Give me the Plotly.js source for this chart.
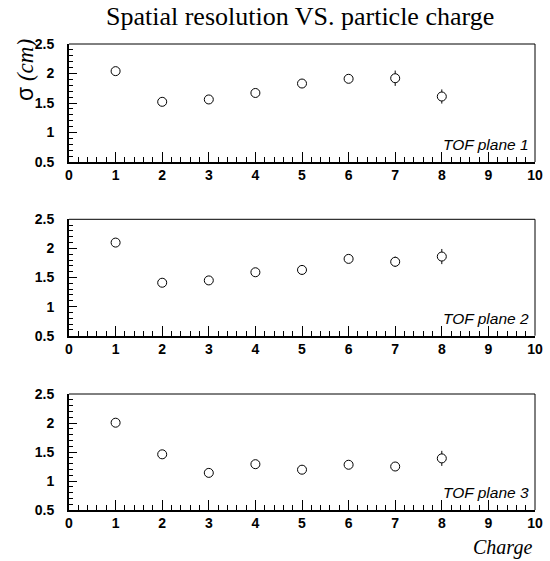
<!DOCTYPE html>
<html>
<head>
<meta charset="utf-8">
<script src="https://cdn.plot.ly/plotly-3.0.1.min.js"></script>
<style>html,body{margin:0;padding:0;background:#fff;}#plot{width:550px;height:561px;}</style>
</head>
<body>
<div id="plot"></div>
<script>
const charges = [1, 2, 3, 4, 5, 6, 7, 8];
const sigma1 = [2.04, 1.52, 1.56, 1.67, 1.83, 1.91, 1.92, 1.61];
const err1   = [0.04, 0.04, 0.04, 0.04, 0.05, 0.05, 0.13, 0.12];
const sigma2 = [2.10, 1.41, 1.45, 1.59, 1.63, 1.82, 1.77, 1.86];
const err2   = [0.04, 0.04, 0.04, 0.05, 0.08, 0.06, 0.09, 0.13];
const sigma3 = [2.005, 1.46, 1.14, 1.29, 1.195, 1.28, 1.25, 1.39];
const err3   = [0.04, 0.04, 0.04, 0.04, 0.05, 0.05, 0.06, 0.13];
const xTickVals = [0, 1, 2, 3, 4, 5, 6, 7, 8, 9, 10];
const xTickText = ['0', '1', '2', '3', '4', '5', '6', '7', '8', '9', '10'];
const yTickVals = [0.5, 1, 1.5, 2, 2.5];
const yTickText = ['0.5', '1', '1.5', '2', '2.5'];
const panelLabels = ['TOF plane 1', 'TOF plane 2', 'TOF plane 3'];
const mainTitle = 'Spatial resolution VS. particle charge';
const xTitle = 'Charge';

const W = 550, H = 561;
const xDom = [69 / W, 535 / W];
const yDoms = [
  [(H - 162) / H, (H - 44) / H],
  [(H - 335.7) / H, (H - 219.3) / H],
  [(H - 510) / H, (H - 394) / H]
];
const series = [[sigma1, err1], [sigma2, err2], [sigma3, err3]];
const tickFont = {family: 'Liberation Sans, Arial, sans-serif', size: 14, color: '#000'};
const bold = arr => arr.map(t => '<b>' + t + '</b>');

const data = [];
const layout = {
  width: W, height: H,
  margin: {l: 0, r: 0, t: 0, b: 0},
  paper_bgcolor: '#fff', plot_bgcolor: '#fff',
  showlegend: false,
  annotations: [], shapes: []
};

for (let i = 0; i < 3; i++) {
  const xa = i === 0 ? 'x' : 'x' + (i + 1);
  const ya = i === 0 ? 'y' : 'y' + (i + 1);
  data.push({
    x: charges, y: series[i][0], xaxis: xa, yaxis: ya,
    type: 'scatter', mode: 'markers',
    marker: {symbol: 'circle', size: 9, color: '#fff', line: {width: 1, color: '#000'}},
    error_y: {type: 'data', array: series[i][1], visible: true, color: '#000', thickness: 1, width: 0},
    hoverinfo: 'skip'
  });
  const xk = i === 0 ? 'xaxis' : 'xaxis' + (i + 1);
  const yk = i === 0 ? 'yaxis' : 'yaxis' + (i + 1);
  layout[xk] = {
    domain: xDom, anchor: ya, range: [0, 10],
    tickmode: 'array', tickvals: xTickVals, ticktext: bold(xTickText),
    showgrid: false, zeroline: false,
    showline: true, linecolor: '#000', linewidth: 2,
    ticks: 'inside', ticklen: 10, tickwidth: 1, tickcolor: '#000',
    minor: {dtick: 0.2, tick0: 0, ticks: 'inside', ticklen: 5, tickwidth: 1, tickcolor: '#000', showgrid: false},
    tickfont: tickFont, ticklabelstandoff: -1, fixedrange: true
  };
  layout[yk] = {
    domain: yDoms[i], anchor: xa, range: [0.5, 2.5],
    tickmode: 'array', tickvals: yTickVals, ticktext: bold(yTickText),
    showgrid: false, zeroline: false,
    showline: true, linecolor: '#000', linewidth: 2,
    ticks: 'inside', ticklen: 8, tickwidth: 1, tickcolor: '#000',
    minor: {dtick: 0.1, tick0: 0.5, ticks: 'inside', ticklen: 4, tickwidth: 1, tickcolor: '#000', showgrid: false},
    tickfont: tickFont, ticklabelstandoff: 10, fixedrange: true
  };
  layout.shapes.push({
    type: 'path', xref: xa + ' domain', yref: ya + ' domain',
    path: 'M 0 1 L 1 1 L 1 0', line: {color: '#000', width: 1}
  });
  layout.annotations.push({
    text: panelLabels[i], xref: xa + ' domain', yref: ya + ' domain',
    x: 0.992, y: 0.06, xanchor: 'right', yanchor: 'bottom', showarrow: false,
    font: {family: 'Liberation Sans, Arial, sans-serif', size: 15.5, color: '#000', style: 'italic'}
  });
}

layout.annotations.push({
  text: mainTitle, xref: 'paper', yref: 'paper', x: 300 / W, y: (H - 17) / H,
  xanchor: 'center', yanchor: 'middle', showarrow: false,
  font: {family: 'Liberation Serif, Times New Roman, serif', size: 26, color: '#000'}
});
layout.annotations.push({
  text: '<span style="font-family:Liberation Sans">σ</span> <i>(cm)</i>',
  xref: 'paper', yref: 'paper', x: 25 / W, y: (H - 70) / H,
  xanchor: 'center', yanchor: 'middle', textangle: -90, showarrow: false,
  font: {family: 'Liberation Serif, Times New Roman, serif', size: 23, color: '#000'}
});
layout.annotations.push({
  text: '<i>' + xTitle + '</i>', xref: 'paper', yref: 'paper', x: 534 / W, y: (H - 547) / H,
  xanchor: 'right', yanchor: 'middle', showarrow: false,
  font: {family: 'Liberation Serif, Times New Roman, serif', size: 20, color: '#000'}
});

Plotly.newPlot('plot', data, layout, {displayModeBar: false, staticPlot: true});
</script>
</body>
</html>
